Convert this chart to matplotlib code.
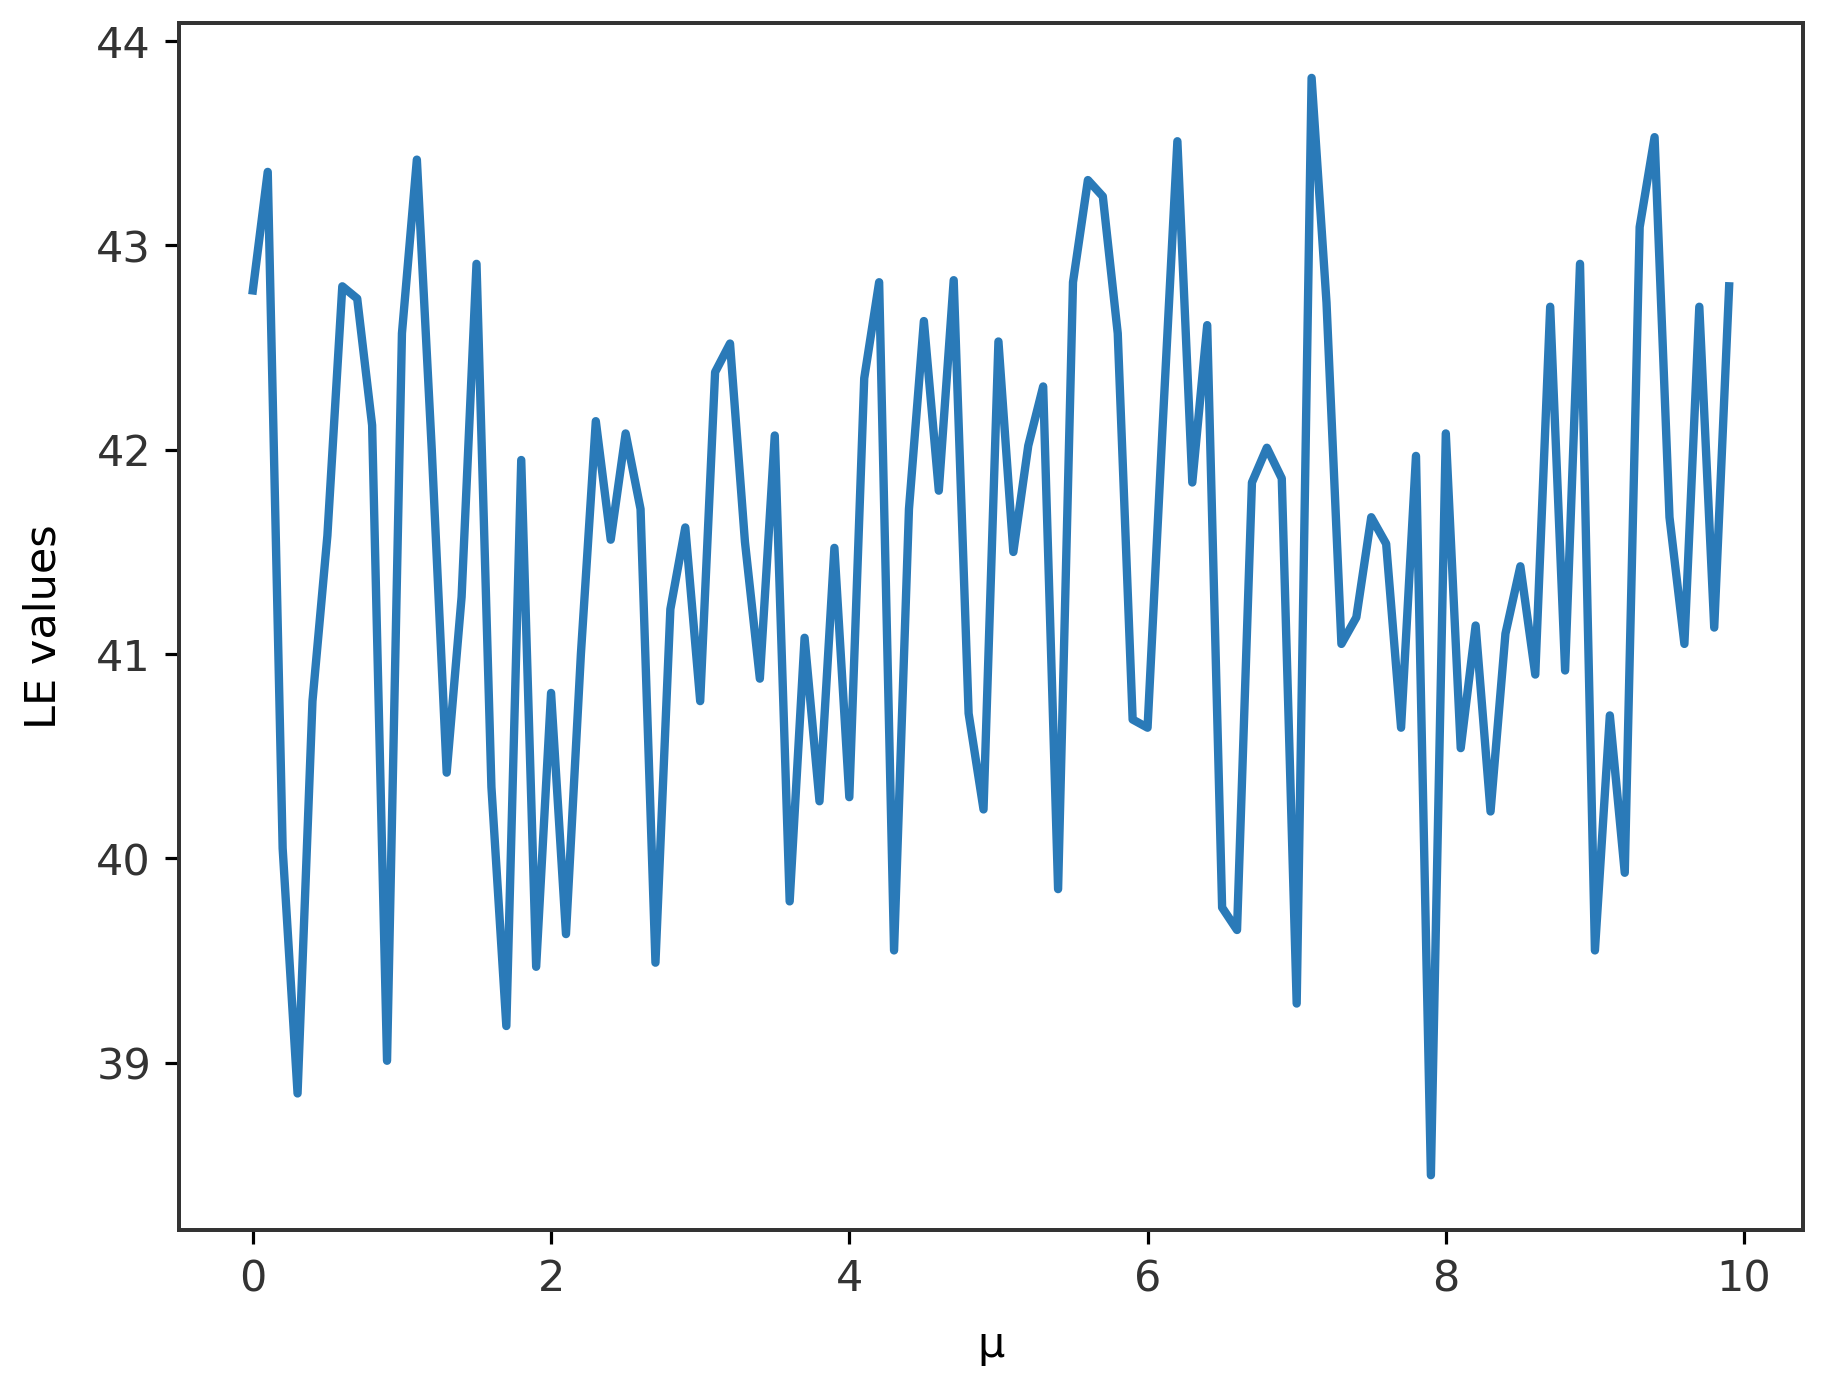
import numpy as np
import matplotlib
matplotlib.use("Agg")
import matplotlib.pyplot as plt

# mu values 0.0 .. 9.9
mu = np.arange(100) / 10

le_values = [
    42.78, 43.36, 40.05, 38.85, 40.77, 41.58, 42.80, 42.74, 42.12, 39.01,
    42.57, 43.42, 42.00, 40.42, 41.28, 42.91, 40.35, 39.18, 41.95, 39.47,
    40.81, 39.63, 41.00, 42.14, 41.56, 42.08, 41.71, 39.49, 41.22, 41.62,
    40.77, 42.38, 42.52, 41.55, 40.88, 42.07, 39.79, 41.08, 40.28, 41.52,
    40.30, 42.35, 42.82, 39.55, 41.71, 42.63, 41.80, 42.83, 40.71, 40.24,
    42.53, 41.50, 42.02, 42.31, 39.85, 42.82, 43.32, 43.24, 42.57, 40.68,
    40.64, 42.10, 43.51, 41.84, 42.61, 39.76, 39.65, 41.84, 42.01, 41.86,
    39.29, 43.82, 42.72, 41.05, 41.18, 41.67, 41.54, 40.64, 41.97, 38.45,
    42.08, 40.54, 41.14, 40.23, 41.10, 41.43, 40.90, 42.70, 40.92, 42.91,
    39.55, 40.70, 39.93, 43.09, 43.53, 41.67, 41.05, 42.70, 41.13, 42.80,
]


def main():
    plt.rcParams["font.size"] = 10.8
    plt.rcParams["text.color"] = "#333333"
    plt.rcParams["xtick.labelcolor"] = "#333333"
    plt.rcParams["ytick.labelcolor"] = "#333333"
    plt.rcParams["axes.edgecolor"] = "#333333"
    plt.rcParams["axes.linewidth"] = 1.0
    fig = plt.figure(figsize=(6.4, 4.849), dpi=286.875)
    ax = fig.add_axes([0.0975, 0.1157, 0.8845, 0.8677])
    ax.plot(mu, le_values, lw=2.1, color="#2a7ab8")
    ax.set_xlabel("μ", labelpad=6)
    ax.set_ylabel("LE values", labelpad=8)
    fig.savefig("out.png", dpi=286.875)


if __name__ == "__main__":
    main()
